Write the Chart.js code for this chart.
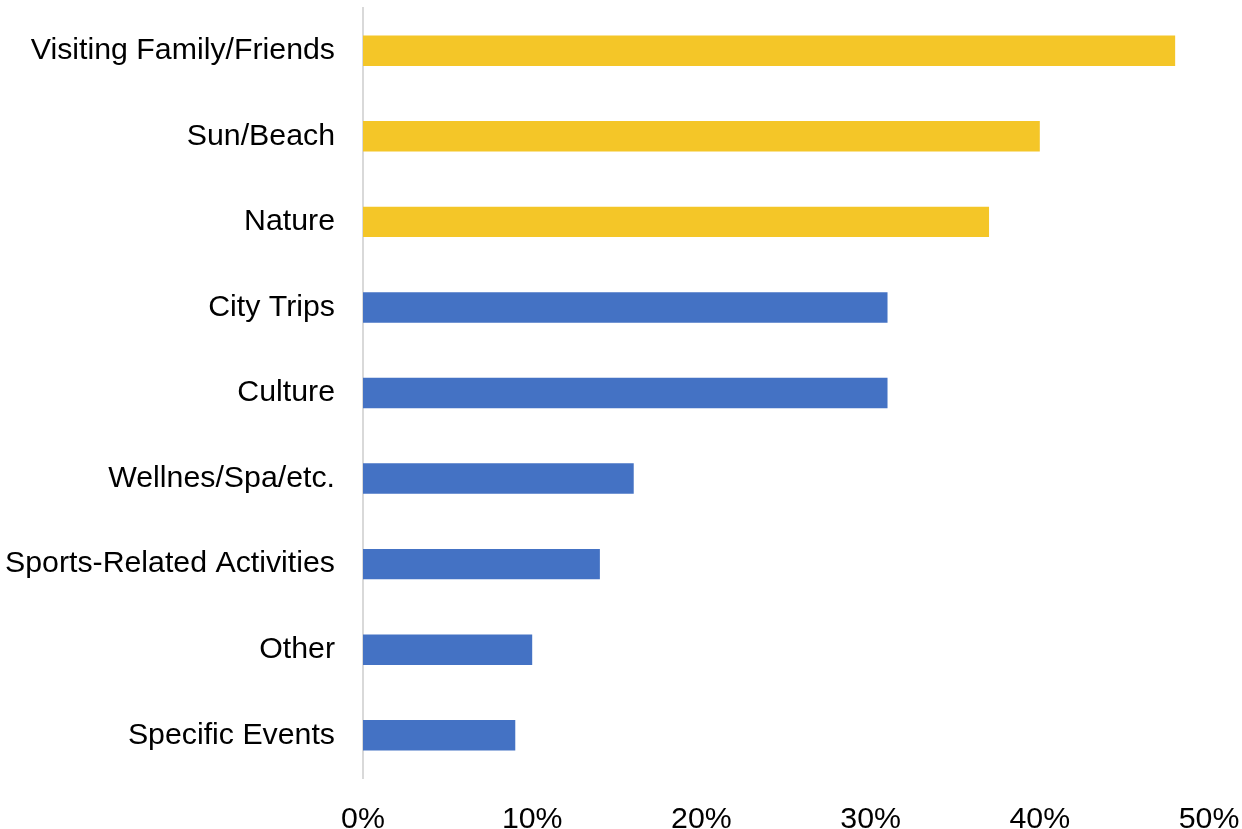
<!DOCTYPE html>
<html>
<head>
<meta charset="utf-8">
<script src="https://cdn.jsdelivr.net/npm/chart.js@4"></script>
<style>
    html, body { margin: 0; padding: 0; background: #ffffff; }
    #wrap { width: 1242px; height: 829px; }
</style>
</head>
<body>
<div id="wrap"><canvas id="motivesChart"></canvas></div>
<script>
const categories = ['Visiting Family/Friends', 'Sun/Beach', 'Nature', 'City Trips', 'Culture',
    'Wellnes/Spa/etc.', 'Sports-Related Activities', 'Other', 'Specific Events'];
const shares = [48, 40, 37, 31, 31, 16, 14, 10, 9];
const highlighted = [true, true, true, false, false, false, false, false, false];
const tickValues = [0, 10, 20, 30, 40, 50];

const YELLOW = '#F4C628';
const BLUE = '#4472C4';
const labelFont = { family: "'Liberation Sans', Arial, sans-serif", size: 30.3 };

document.addEventListener('DOMContentLoaded', function() {
    new Chart(document.getElementById('motivesChart').getContext('2d'), {
        type: 'bar',
        data: {
            labels: categories,
            datasets: [{
                data: shares,
                backgroundColor: highlighted.map(h => h ? YELLOW : BLUE),
                borderWidth: 0,
                categoryPercentage: 1,
                barPercentage: 0.356
            }]
        },
        options: {
            indexAxis: 'y',
            responsive: true,
            maintainAspectRatio: false,
            animation: false,
            layout: { padding: { top: 8, right: 33, left: 0, bottom: 0 } },
            scales: {
                x: {
                    min: 0,
                    max: 50,
                    afterBuildTicks: axis => { axis.ticks = tickValues.map(v => ({ value: v })); },
                    // keep the plot area fixed instead of letting tick labels push it
                    afterFit: axis => {
                        axis.height = 51;
                        axis.paddingLeft = 0;
                        axis.paddingRight = 0;
                    },
                    grid: { display: false },
                    border: { display: false },
                    ticks: {
                        color: '#000000',
                        font: labelFont,
                        padding: 15,
                        maxRotation: 0,
                        callback: v => v + '%'
                    }
                },
                y: {
                    afterFit: axis => {
                        axis.width = 363;
                        axis.paddingTop = 0;
                        axis.paddingBottom = 0;
                    },
                    grid: { display: false },
                    border: { display: true, color: '#D9D9D9', width: 2 },
                    ticks: {
                        color: '#000000',
                        font: labelFont,
                        padding: 20
                    }
                }
            },
            plugins: {
                legend: { display: false },
                tooltip: { enabled: false }
            }
        }
    });
});
</script>
</body>
</html>
